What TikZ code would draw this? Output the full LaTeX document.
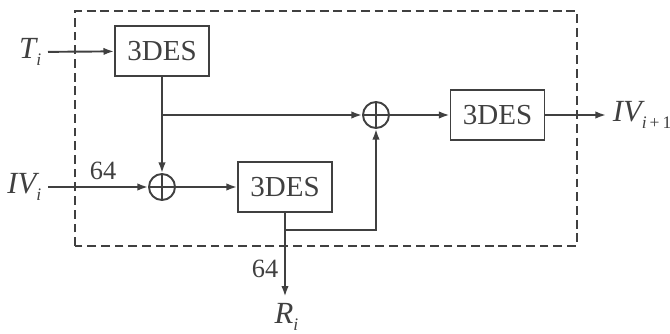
\documentclass[tikz,border=0pt]{standalone}
\usepackage{fontspec}
\setmainfont{Liberation Serif}
\usetikzlibrary{arrows,arrows.meta,positioning,calc}
\newcommand{\lowidx}[1]{\raisebox{-0.5ex}{\fontsize{10}{12}\selectfont #1}}
\tikzset{desbox/.style={draw,minimum width=1.88cm,minimum height=1cm,inner sep=0pt,font=\fontsize{16.5}{19}\selectfont},
  xorop/.style={draw,circle,minimum size=0.52cm,inner sep=0pt,
    path picture={\draw (path picture bounding box.north) -- (path picture bounding box.south)
                        (path picture bounding box.west) -- (path picture bounding box.east);}},
  lab/.style={font=\fontsize{17.5}{20}\selectfont\itshape},
  bits/.style={font=\fontsize{15}{17}\selectfont}}

\begin{document}
\begin{tikzpicture}[>={Latex[length=6pt,width=4.2pt]},line width=1.1pt,color=black!75]
\useasboundingbox (0,0) rectangle (13.4,6.66);
\draw[dash pattern=on 5pt off 2.8pt] (1.5,1.74) rectangle (11.54,6.44);
% blocks
\node[desbox] (des1) at (3.24,5.64) {3DES};
\node[desbox] (des2) at (5.70,2.92) {3DES};
\node[desbox] (des3) at (9.95,4.36) {3DES};
\node[xorop] (xor1) at (3.24,2.92) {};
\node[xorop] (xor2) at (7.52,4.36) {};
% inputs and outputs
\node[lab,anchor=east] (ti) at (0.96,5.62) {T\lowidx{i}};
\node[lab,anchor=east] (iv) at (0.96,2.92) {IV\lowidx{i}};
\node[lab,anchor=west] (ivn) at (12.12,4.36) {IV\lowidx{i\,\upshape+\,1}};
\node[lab] (ri) at (5.73,0.32) {R\lowidx{i}};
\draw[->] (ti) -- (des1);
\draw[->] (des1) -- (xor1);
\draw[->] (des1 |- xor2) -- (xor2);
\draw[->] (iv) -- node[bits,above,pos=0.55] {64} (xor1);
\draw[->] (xor1) -- (des2);
\draw[->] (xor2) -- (des3);
\draw[->] (des3) -- (ivn);
\draw[->] (des2.south) -- node[bits,left,pos=0.67] {64} (des2.south |- ri.north);
\draw[->] (des2.south |- 0,2.06) -| (xor2);
\end{tikzpicture}
\end{document}
